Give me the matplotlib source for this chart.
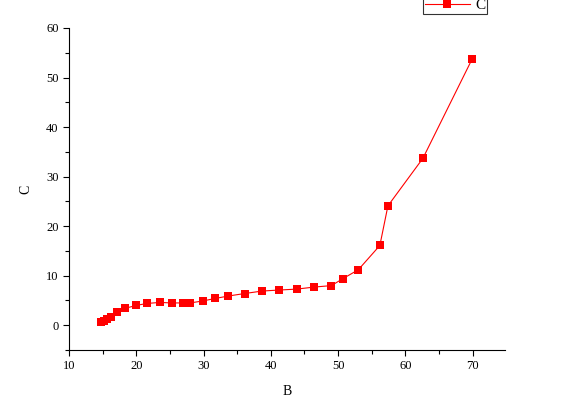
import numpy as np
import matplotlib
matplotlib.use("Agg")
import matplotlib.pyplot as plt
from matplotlib.ticker import MultipleLocator

# values
b_values = [14.8, 15.2, 15.6, 16.2, 17.1, 18.3, 20.0, 21.6, 23.5, 25.3, 26.9, 28.0,
            29.9, 31.7, 33.7, 36.1, 38.7, 41.2, 43.9, 46.4, 49.0, 50.7, 53.0,
            56.2, 57.4, 62.6, 69.9]
c_values = [0.7, 0.9, 1.2, 1.7, 2.7, 3.4, 4.0, 4.4, 4.6, 4.5, 4.5, 4.5,
            4.9, 5.4, 5.9, 6.4, 6.9, 7.1, 7.3, 7.7, 8.0, 9.4, 11.2,
            16.1, 24.1, 33.7, 53.7]

plt.rcParams['font.family'] = ['Liberation Serif', 'DejaVu Serif']

fig = plt.figure(figsize=(5.62, 4.13), dpi=100)
ax = fig.add_axes([69 / 562, 1 - 350 / 413, (505 - 69) / 562, (350 - 28) / 413])

ax.plot(b_values, c_values, color='red', lw=0.8, marker='s', markersize=6,
        markeredgewidth=0, label='C')

ax.set_xlim(10, 74.8)
ax.set_ylim(-5, 60)
ax.xaxis.set_major_locator(MultipleLocator(10))
ax.xaxis.set_minor_locator(MultipleLocator(5))
ax.yaxis.set_major_locator(MultipleLocator(10))
ax.yaxis.set_minor_locator(MultipleLocator(5))
ax.tick_params(which='major', length=4, width=0.8, labelsize=9, direction='out')
ax.tick_params(which='minor', length=3, width=0.8, direction='out')

for side in ('top', 'right'):
    ax.spines[side].set_visible(False)
for side in ('left', 'bottom'):
    ax.spines[side].set_linewidth(0.8)

ax.set_xlabel('B', fontsize=10, labelpad=9)
ax.set_ylabel('C', fontsize=10, labelpad=10)

leg = ax.legend(loc='lower left', bbox_to_anchor=(423 / 562, 1 - 14 / 413),
                bbox_transform=fig.transFigure, fontsize=11, frameon=True,
                fancybox=False, borderpad=0.1, handlelength=3.0,
                handletextpad=0.3, borderaxespad=0)
leg.get_frame().set_edgecolor('black')
leg.get_frame().set_linewidth(0.8)

fig.savefig('out.png', dpi=100)
